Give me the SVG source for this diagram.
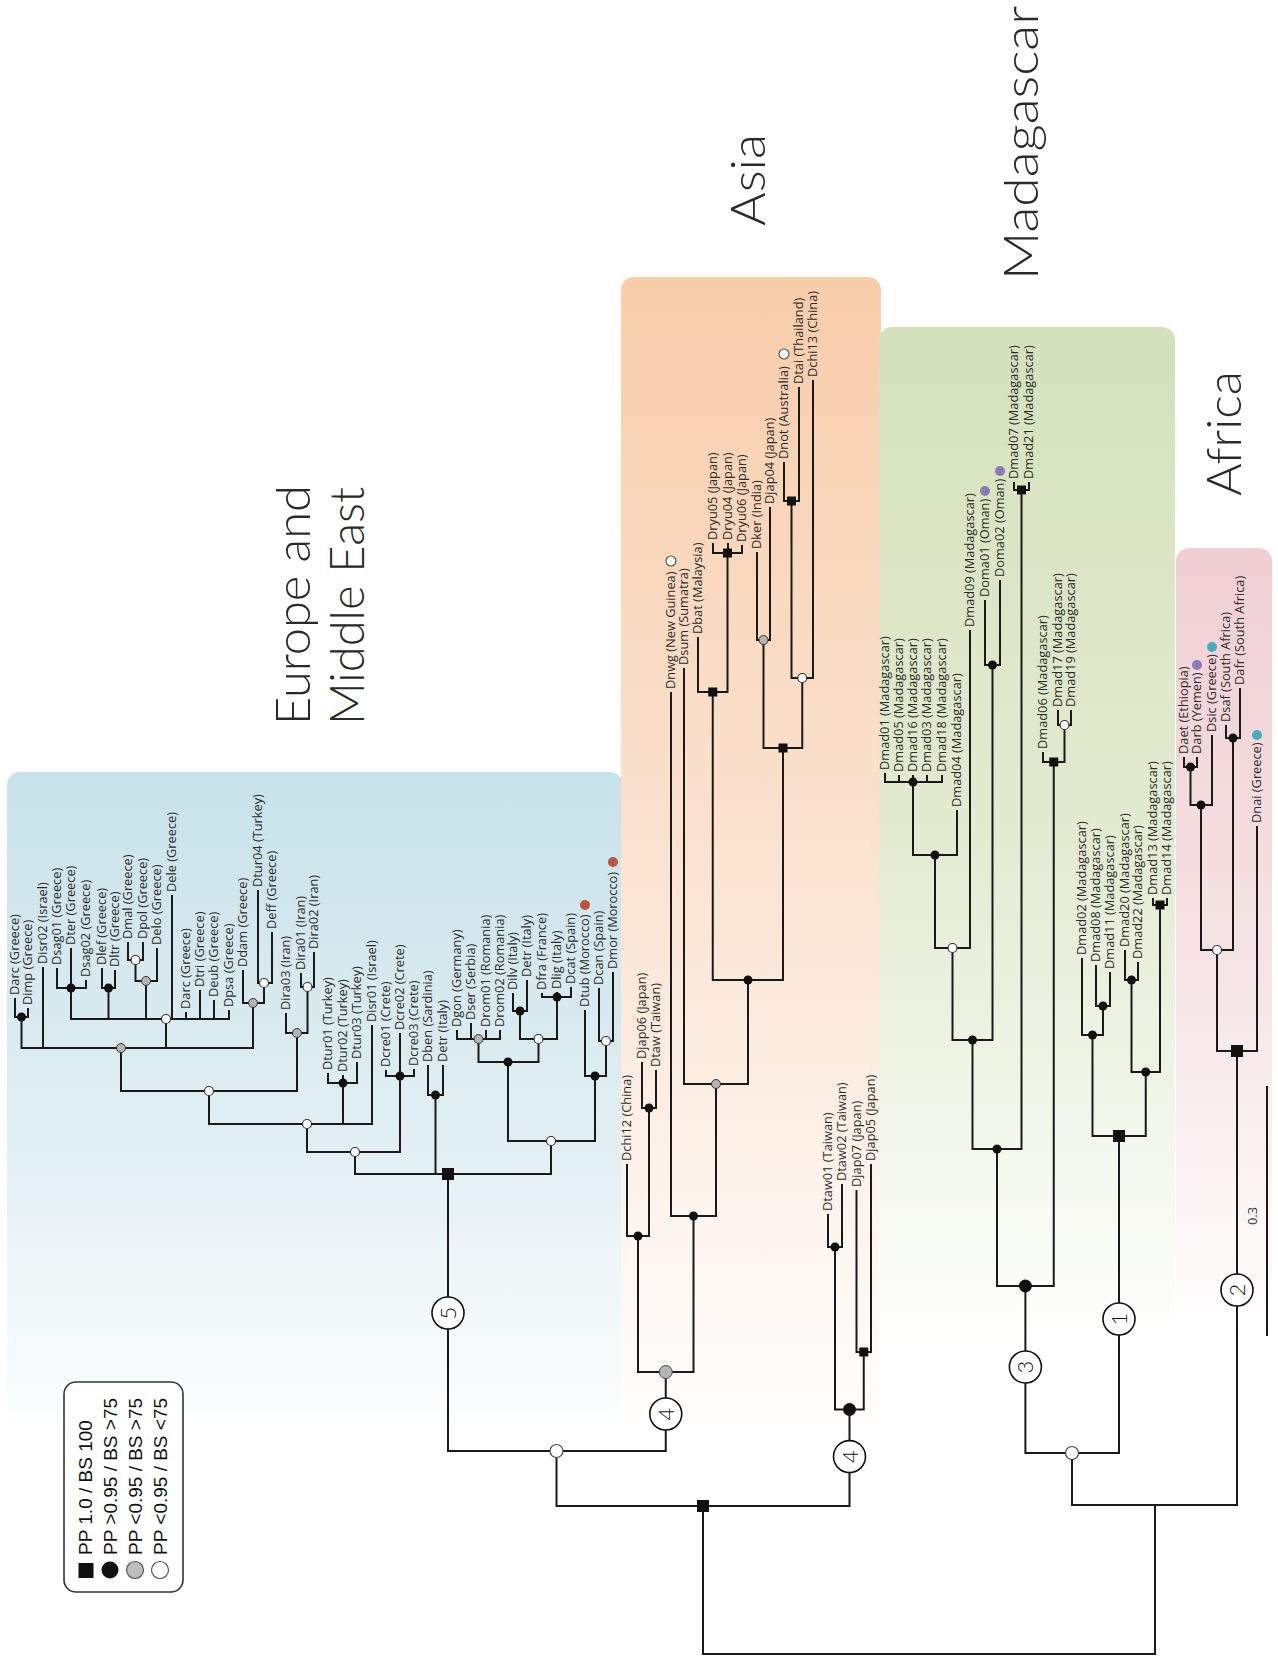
<svg xmlns="http://www.w3.org/2000/svg" xmlns:xlink="http://www.w3.org/1999/xlink" width="1278" height="1656" viewBox="0 0 1278 1656">
  <style>
    .br{fill:none;stroke:#1a1a1a;stroke-width:2}
    .lf{font-family:'Open Sans','Noto Sans',sans-serif;font-size:12.8px;fill:#2b2b2b}
    .ttl{font-family:'Lato Light','Open Sans Light',Lato,'Open Sans',sans-serif;font-size:48px;font-weight:300;fill:#2a2a2a}
    .num{font-family:'Lato Light',Lato,'Open Sans',sans-serif;font-size:22px;fill:#111;text-anchor:middle}
    .lg{font-family:'Liberation Sans',Arial,sans-serif;font-size:19px;fill:#111}
    .ring{fill:#fff;stroke:#111;stroke-width:1.6}
    .red{fill:#c0533f}
    .pur{fill:#8a7ab6}
    .teal{fill:#47adbb}
    .open{fill:#fff;stroke:#555;stroke-width:1.2}
  </style>
  <defs>
    <linearGradient id="gEur" gradientUnits="userSpaceOnUse" x1="0" y1="772" x2="0" y2="1440">
      <stop offset="0" stop-color="#c8e2ea"/>
      <stop offset="0.55" stop-color="#e1eff3"/>
      <stop offset="1" stop-color="#ffffff"/>
    </linearGradient>
    <linearGradient id="gAsia" gradientUnits="userSpaceOnUse" x1="0" y1="277" x2="0" y2="1440">
      <stop offset="0" stop-color="#f8cdaa"/>
      <stop offset="0.5" stop-color="#fbe3d1"/>
      <stop offset="1" stop-color="#ffffff"/>
    </linearGradient>
    <linearGradient id="gMad" gradientUnits="userSpaceOnUse" x1="0" y1="327" x2="0" y2="1350">
      <stop offset="0" stop-color="#d5e1bb"/>
      <stop offset="0.5" stop-color="#e3ebd1"/>
      <stop offset="1" stop-color="#ffffff"/>
    </linearGradient>
    <linearGradient id="gAfr" gradientUnits="userSpaceOnUse" x1="0" y1="548" x2="0" y2="1340">
      <stop offset="0" stop-color="#f0cfd3"/>
      <stop offset="0.5" stop-color="#f6e2e4"/>
      <stop offset="1" stop-color="#ffffff"/>
    </linearGradient>
    <circle id="mb" r="4.5" fill="#111"/>
    <circle id="mg" r="4.5" fill="#b5b5b5" stroke="#333" stroke-width="1"/>
    <circle id="mw" r="4.5" fill="#fff" stroke="#333" stroke-width="1.2"/>
    <circle id="MB" r="6.5" fill="#111"/>
    <circle id="MG" r="6.5" fill="#b5b5b5" stroke="#444" stroke-width="1"/>
    <circle id="MW" r="6.5" fill="#fff" stroke="#444" stroke-width="1.2"/>
    <rect id="sq" x="-4.5" y="-4.5" width="9" height="9" fill="#111"/>
    <rect id="SQ" x="-6" y="-6" width="12" height="12" fill="#111"/>
  </defs>

  <!-- regional backgrounds -->
  <g id="regions">
    <rect x="7" y="772" width="616" height="900" rx="13" fill="url(#gEur)"/>
    <rect x="621" y="277" width="260" height="1400" rx="13" fill="url(#gAsia)"/>
    <rect x="879" y="327" width="296" height="1350" rx="13" fill="url(#gMad)"/>
    <rect x="1176" y="548" width="96" height="1100" rx="13" fill="url(#gAfr)"/>
  </g>

  <!-- region titles -->
  <g id="titles">
    <text class="ttl" transform="translate(310 725) rotate(-90)" textLength="240" lengthAdjust="spacingAndGlyphs">Europe and</text>
    <text class="ttl" transform="translate(364 725) rotate(-90)" textLength="238" lengthAdjust="spacingAndGlyphs">Middle East</text>
    <text class="ttl" transform="translate(765 226) rotate(-90)" textLength="92" lengthAdjust="spacingAndGlyphs">Asia</text>
    <text class="ttl" transform="translate(1038 280) rotate(-90)" textLength="274" lengthAdjust="spacingAndGlyphs">Madagascar</text>
    <text class="ttl" transform="translate(1241 496) rotate(-90)" textLength="125" lengthAdjust="spacingAndGlyphs">Africa</text>
  </g>

  <!-- branches -->
  <g id="connectors" class="br">
    <path d="M15 998V1017H28V1008"/>
    <path d="M57 968V988H86V980M71 948V988"/>
    <path d="M102 968V988H115V970"/>
    <path d="M128 942V960H143V942"/>
    <path d="M135.5 960V981H157V948"/>
    <path d="M71 988V1019H229V1010M108.5 988V1019M146 981V1019M172 895V1019M186 1012V1019M200 990V1019M214 1000V1019"/>
    <path d="M258 890V983H272V932"/>
    <path d="M243 970V1003H264V983"/>
    <path d="M21.5 1017V1048H253V1003M43 967V1048M166 1019V1048"/>
    <path d="M301 973V987H314V952"/>
    <path d="M286 1013V1033H307.5V987"/>
    <path d="M121 1048V1091H297V1033"/>
    <path d="M328 1073V1083H357V1062M343 1075V1083"/>
    <path d="M209 1091V1124H372V1025M343 1083V1124"/>
    <path d="M386 1070V1076H414V1069M400 1033V1076"/>
    <path d="M307 1124V1152H400V1076"/>
    <path d="M428 1065V1095H443V1065"/>
    <path d="M457 1030V1039H500V1030M471 1023V1039M486 1030V1039"/>
    <path d="M513 993V1011H527V980"/>
    <path d="M542 993V997H571V987M557 992V997"/>
    <path d="M520 1011V1039H557V997"/>
    <path d="M478.5 1039V1062H538.5V1039"/>
    <path d="M599 988V1041H613V972"/>
    <path d="M585 1010V1076H606V1041"/>
    <path d="M508 1062V1141H595V1076"/>
    <path d="M355 1152V1174H551V1141M435.5 1095V1174"/>
    <path d="M448 1174V1451H665.75V1372"/>
    <path d="M642 1062V1108H656V1070"/>
    <path d="M627 1164V1236H649V1108"/>
    <path d="M713 543V553H742V545M728 543V553"/>
    <path d="M698 637V692H727.5V553"/>
    <path d="M757 552V640H770V507"/>
    <path d="M784 462V501H799V387"/>
    <path d="M791.5 501V678H813V380"/>
    <path d="M763.5 640V748H802.25V678"/>
    <path d="M712.75 692V980H783V748"/>
    <path d="M684 668V1084H748V980"/>
    <path d="M671 692V1216H716V1084"/>
    <path d="M638 1236V1372H693.5V1216"/>
    <path d="M828 1214V1247H842V1184"/>
    <path d="M856.5 1190V1352H871V1164"/>
    <path d="M835 1247V1409.5H863.75V1352"/>
    <path d="M556.5 1451V1506H849.5V1409.5"/>
    <path d="M885 773V782H942V775M899 775V782M913 775V782M927 775V782"/>
    <path d="M913 782V855H957V810"/>
    <path d="M935 855V948H970V630"/>
    <path d="M985 600V665H1000V580"/>
    <path d="M952.5 948V1040H992.5V665"/>
    <path d="M1014 482V490H1029V482"/>
    <path d="M972.5 1040V1149H1021.5V490"/>
    <path d="M1058 710V725H1071V710"/>
    <path d="M1043 752V762H1064.5V725"/>
    <path d="M997 1149V1286H1053.75V762"/>
    <path d="M1096 965V1006H1110V972"/>
    <path d="M1082 958V1035H1103V1006"/>
    <path d="M1125 950V980H1138V962"/>
    <path d="M1153 898V905H1167V898"/>
    <path d="M1131.5 980V1072H1160V905"/>
    <path d="M1092.5 1035V1136H1145.75V1072"/>
    <path d="M1025.4 1286V1453H1119V1136"/>
    <path d="M1184 757V767H1197V757"/>
    <path d="M1190.5 767V805H1212V735"/>
    <path d="M1226 725V738H1240V688"/>
    <path d="M1201 805V950H1233V738"/>
    <path d="M1217 950V1051H1257V826"/>
    <path d="M1072 1453V1505H1237V1051"/>
    <path d="M703 1506V1654H1155V1505"/>
  </g>

  <!-- internal nodes (support markers) -->
  <g id="node-E1"><use href="#mb" x="21.5" y="1017"/></g>
  <g id="node-E2"><use href="#mb" x="71" y="988"/></g>
  <g id="node-E3"><use href="#mb" x="108.5" y="988"/></g>
  <g id="node-E4"><use href="#mw" x="135.5" y="960"/></g>
  <g id="node-E5"><use href="#mg" x="146" y="981"/></g>
  <g id="node-E6"><use href="#mw" x="166" y="1019"/></g>
  <g id="node-E7"><use href="#mw" x="264" y="983"/></g>
  <g id="node-E8"><use href="#mg" x="253" y="1003"/></g>
  <g id="node-E9"><use href="#mg" x="121" y="1048"/></g>
  <g id="node-E10"><use href="#mw" x="307.5" y="987"/></g>
  <g id="node-E11"><use href="#mg" x="297" y="1033"/></g>
  <g id="node-E12"><use href="#mw" x="209" y="1091"/></g>
  <g id="node-E13"><use href="#mb" x="343" y="1083"/></g>
  <g id="node-E14"><use href="#mw" x="307" y="1124"/></g>
  <g id="node-E15"><use href="#mb" x="400" y="1076"/></g>
  <g id="node-E16"><use href="#mw" x="355" y="1152"/></g>
  <g id="node-E17"><use href="#mb" x="435.5" y="1095"/></g>
  <g id="node-E18"><use href="#mg" x="478.5" y="1039"/></g>
  <g id="node-E19"><use href="#mb" x="520" y="1011"/></g>
  <g id="node-E20"><use href="#mb" x="557" y="997"/></g>
  <g id="node-E21"><use href="#mw" x="538.5" y="1039"/></g>
  <g id="node-E22"><use href="#mb" x="508" y="1062"/></g>
  <g id="node-E23"><use href="#mw" x="606" y="1041"/></g>
  <g id="node-E24"><use href="#mb" x="595" y="1076"/></g>
  <g id="node-E25"><use href="#mw" x="551" y="1141"/></g>
  <g id="node-E26"><use href="#SQ" x="448" y="1174"/></g>
  <g id="node-R1"><use href="#MW" x="556.5" y="1451"/></g>
  <g id="node-A1"><use href="#mb" x="649" y="1108"/></g>
  <g id="node-A2"><use href="#mb" x="638" y="1236"/></g>
  <g id="node-A3"><use href="#sq" x="727.5" y="553"/></g>
  <g id="node-A4"><use href="#sq" x="712.75" y="692"/></g>
  <g id="node-A5"><use href="#mg" x="763.5" y="640"/></g>
  <g id="node-A6"><use href="#sq" x="791.5" y="501"/></g>
  <g id="node-A7"><use href="#mw" x="802.25" y="678"/></g>
  <g id="node-A8"><use href="#sq" x="783" y="748"/></g>
  <g id="node-A9"><use href="#mb" x="748" y="980"/></g>
  <g id="node-A10"><use href="#mg" x="716" y="1084"/></g>
  <g id="node-A11"><use href="#mb" x="693.5" y="1216"/></g>
  <g id="node-A12"><use href="#MG" x="665.75" y="1372"/></g>
  <g id="node-A13"><use href="#mb" x="835" y="1247"/></g>
  <g id="node-A14"><use href="#sq" x="863.75" y="1352"/></g>
  <g id="node-A15"><use href="#MB" x="849.5" y="1409.5"/></g>
  <g id="node-R2"><use href="#SQ" x="703" y="1506"/></g>
  <g id="node-M1"><use href="#mb" x="913" y="782"/></g>
  <g id="node-M2"><use href="#mb" x="935" y="855"/></g>
  <g id="node-M3"><use href="#mw" x="952.5" y="948"/></g>
  <g id="node-M4"><use href="#mb" x="992.5" y="665"/></g>
  <g id="node-M5"><use href="#mb" x="972.5" y="1040"/></g>
  <g id="node-M6"><use href="#sq" x="1021.5" y="490"/></g>
  <g id="node-M7"><use href="#mb" x="997" y="1149"/></g>
  <g id="node-M8"><use href="#mw" x="1064.5" y="725"/></g>
  <g id="node-M9"><use href="#sq" x="1053.75" y="762"/></g>
  <g id="node-M10"><use href="#MB" x="1025.4" y="1286"/></g>
  <g id="node-M11"><use href="#mb" x="1103" y="1006"/></g>
  <g id="node-M12"><use href="#mb" x="1092.5" y="1035"/></g>
  <g id="node-M13"><use href="#mb" x="1131.5" y="980"/></g>
  <g id="node-M14"><use href="#sq" x="1160" y="905"/></g>
  <g id="node-M15"><use href="#mb" x="1145.75" y="1072"/></g>
  <g id="node-M16"><use href="#SQ" x="1119" y="1136"/></g>
  <g id="node-R3"><use href="#MW" x="1072" y="1453"/></g>
  <g id="node-F1"><use href="#mb" x="1190.5" y="767"/></g>
  <g id="node-F2"><use href="#mb" x="1201" y="805"/></g>
  <g id="node-F3"><use href="#mb" x="1233" y="738"/></g>
  <g id="node-F4"><use href="#mw" x="1217" y="950"/></g>
  <g id="node-F5"><use href="#SQ" x="1237" y="1051"/></g>

  <!-- numbered clade markers -->
  <g id="clade-5"><circle class="ring" cx="448" cy="1313" r="16"/><text class="num" transform="translate(448 1313) rotate(-90)" y="8">5</text></g>
  <g id="clade-4a"><circle class="ring" cx="665.75" cy="1414" r="16"/><text class="num" transform="translate(665.75 1414) rotate(-90)" y="8">4</text></g>
  <g id="clade-4b"><circle class="ring" cx="849.5" cy="1456.6" r="16"/><text class="num" transform="translate(849.5 1456.6) rotate(-90)" y="8">4</text></g>
  <g id="clade-3"><circle class="ring" cx="1025.4" cy="1367" r="16"/><text class="num" transform="translate(1025.4 1367) rotate(-90)" y="8">3</text></g>
  <g id="clade-1"><circle class="ring" cx="1119" cy="1319" r="16"/><text class="num" transform="translate(1119 1319) rotate(-90)" y="8">1</text></g>
  <g id="clade-2"><circle class="ring" cx="1237" cy="1290" r="16"/><text class="num" transform="translate(1237 1290) rotate(-90)" y="8">2</text></g>

  <!-- leaves: Europe and Middle East -->
  <g id="leaf-darc-1"><text class="lf" transform="translate(19.3 995) rotate(-90)">Darc (Greece)</text></g>
  <g id="leaf-dimp"><text class="lf" transform="translate(32.3 1005) rotate(-90)">Dimp (Greece)</text></g>
  <g id="leaf-disr02"><text class="lf" transform="translate(47.3 964) rotate(-90)">Disr02 (Israel)</text></g>
  <g id="leaf-dsag01"><text class="lf" transform="translate(61.3 965) rotate(-90)">Dsag01 (Greece)</text></g>
  <g id="leaf-dter"><text class="lf" transform="translate(75.3 945) rotate(-90)">Dter (Greece)</text></g>
  <g id="leaf-dsag02"><text class="lf" transform="translate(90.3 977) rotate(-90)">Dsag02 (Greece)</text></g>
  <g id="leaf-dlef"><text class="lf" transform="translate(106.3 965) rotate(-90)">Dlef (Greece)</text></g>
  <g id="leaf-dltr"><text class="lf" transform="translate(119.3 967) rotate(-90)">Dltr (Greece)</text></g>
  <g id="leaf-dmal"><text class="lf" transform="translate(132.3 939) rotate(-90)">Dmal (Greece)</text></g>
  <g id="leaf-dpol"><text class="lf" transform="translate(147.3 939) rotate(-90)">Dpol (Greece)</text></g>
  <g id="leaf-delo"><text class="lf" transform="translate(161.3 945) rotate(-90)">Delo (Greece)</text></g>
  <g id="leaf-dele"><text class="lf" transform="translate(176.3 892) rotate(-90)">Dele (Greece)</text></g>
  <g id="leaf-darc-2"><text class="lf" transform="translate(190.3 1009) rotate(-90)">Darc (Greece)</text></g>
  <g id="leaf-dtri"><text class="lf" transform="translate(204.3 987) rotate(-90)">Dtri (Greece)</text></g>
  <g id="leaf-deub"><text class="lf" transform="translate(218.3 997) rotate(-90)">Deub (Greece)</text></g>
  <g id="leaf-dpsa"><text class="lf" transform="translate(233.3 1007) rotate(-90)">Dpsa (Greece)</text></g>
  <g id="leaf-ddam"><text class="lf" transform="translate(247.3 967) rotate(-90)">Ddam (Greece)</text></g>
  <g id="leaf-dtur04"><text class="lf" transform="translate(262.3 887) rotate(-90)">Dtur04 (Turkey)</text></g>
  <g id="leaf-deff"><text class="lf" transform="translate(276.3 929) rotate(-90)">Deff (Greece)</text></g>
  <g id="leaf-dira03"><text class="lf" transform="translate(290.3 1010) rotate(-90)">Dira03 (Iran)</text></g>
  <g id="leaf-dira01"><text class="lf" transform="translate(305.3 970) rotate(-90)">Dira01 (Iran)</text></g>
  <g id="leaf-dira02"><text class="lf" transform="translate(318.3 949) rotate(-90)">Dira02 (Iran)</text></g>
  <g id="leaf-dtur01"><text class="lf" transform="translate(332.3 1070) rotate(-90)">Dtur01 (Turkey)</text></g>
  <g id="leaf-dtur02"><text class="lf" transform="translate(347.3 1072) rotate(-90)">Dtur02 (Turkey)</text></g>
  <g id="leaf-dtur03"><text class="lf" transform="translate(361.3 1059) rotate(-90)">Dtur03 (Turkey)</text></g>
  <g id="leaf-disr01"><text class="lf" transform="translate(376.3 1022) rotate(-90)">Disr01 (Israel)</text></g>
  <g id="leaf-dcre01"><text class="lf" transform="translate(390.3 1067) rotate(-90)">Dcre01 (Crete)</text></g>
  <g id="leaf-dcre02"><text class="lf" transform="translate(404.3 1030) rotate(-90)">Dcre02 (Crete)</text></g>
  <g id="leaf-dcre03"><text class="lf" transform="translate(418.3 1066) rotate(-90)">Dcre03 (Crete)</text></g>
  <g id="leaf-dben"><text class="lf" transform="translate(432.3 1062) rotate(-90)">Dben (Sardinia)</text></g>
  <g id="leaf-detr-1"><text class="lf" transform="translate(447.3 1062) rotate(-90)">Detr (Italy)</text></g>
  <g id="leaf-dgon"><text class="lf" transform="translate(461.3 1027) rotate(-90)">Dgon (Germany)</text></g>
  <g id="leaf-dser"><text class="lf" transform="translate(475.3 1020) rotate(-90)">Dser (Serbia)</text></g>
  <g id="leaf-drom01"><text class="lf" transform="translate(490.3 1027) rotate(-90)">Drom01 (Romania)</text></g>
  <g id="leaf-drom02"><text class="lf" transform="translate(504.3 1027) rotate(-90)">Drom02 (Romania)</text></g>
  <g id="leaf-dilv"><text class="lf" transform="translate(517.3 990) rotate(-90)">Dilv (Italy)</text></g>
  <g id="leaf-detr-2"><text class="lf" transform="translate(531.3 977) rotate(-90)">Detr (Italy)</text></g>
  <g id="leaf-dfra"><text class="lf" transform="translate(546.3 990) rotate(-90)">Dfra (France)</text></g>
  <g id="leaf-dlig"><text class="lf" transform="translate(561.3 989) rotate(-90)">Dlig (Italy)</text></g>
  <g id="leaf-dcat"><text class="lf" transform="translate(575.3 984) rotate(-90)">Dcat (Spain)</text></g>
  <g id="leaf-dtub"><text class="lf" transform="translate(589.3 1007) rotate(-90)">Dtub (Morocco)</text><circle class="red" cx="585" cy="905" r="5"/></g>
  <g id="leaf-dcan"><text class="lf" transform="translate(603.3 985) rotate(-90)">Dcan (Spain)</text></g>
  <g id="leaf-dmor"><text class="lf" transform="translate(617.3 969) rotate(-90)">Dmor (Morocco)</text><circle class="red" cx="613" cy="862" r="5"/></g>

  <!-- leaves: Asia -->
  <g id="leaf-dchi12"><text class="lf" transform="translate(631.3 1161) rotate(-90)">Dchi12 (China)</text></g>
  <g id="leaf-djap06"><text class="lf" transform="translate(646.3 1059) rotate(-90)">Djap06 (Japan)</text></g>
  <g id="leaf-dtaw"><text class="lf" transform="translate(660.3 1067) rotate(-90)">Dtaw (Taiwan)</text></g>
  <g id="leaf-dnwg"><text class="lf" transform="translate(675.3 689) rotate(-90)">Dnwg (New Guinea)</text><circle class="open" cx="671" cy="561" r="5"/></g>
  <g id="leaf-dsum"><text class="lf" transform="translate(688.3 665) rotate(-90)">Dsum (Sumatra)</text></g>
  <g id="leaf-dbat"><text class="lf" transform="translate(702.3 634) rotate(-90)">Dbat (Malaysia)</text></g>
  <g id="leaf-dryu05"><text class="lf" transform="translate(717.3 540) rotate(-90)">Dryu05 (Japan)</text></g>
  <g id="leaf-dryu04"><text class="lf" transform="translate(732.3 540) rotate(-90)">Dryu04 (Japan)</text></g>
  <g id="leaf-dryu06"><text class="lf" transform="translate(746.3 542) rotate(-90)">Dryu06 (Japan)</text></g>
  <g id="leaf-dker"><text class="lf" transform="translate(761.3 549) rotate(-90)">Dker (India)</text></g>
  <g id="leaf-djap04"><text class="lf" transform="translate(774.3 504) rotate(-90)">Djap04 (Japan)</text></g>
  <g id="leaf-dnot"><text class="lf" transform="translate(788.3 459) rotate(-90)">Dnot (Australia)</text><circle class="open" cx="784" cy="354" r="5"/></g>
  <g id="leaf-dtai"><text class="lf" transform="translate(803.3 384) rotate(-90)">Dtai (Thailand)</text></g>
  <g id="leaf-dchi13"><text class="lf" transform="translate(817.3 377) rotate(-90)">Dchi13 (China)</text></g>
  <g id="leaf-dtaw01"><text class="lf" transform="translate(832.3 1211) rotate(-90)">Dtaw01 (Taiwan)</text></g>
  <g id="leaf-dtaw02"><text class="lf" transform="translate(846.3 1181) rotate(-90)">Dtaw02 (Taiwan)</text></g>
  <g id="leaf-djap07"><text class="lf" transform="translate(860.8 1187) rotate(-90)">Djap07 (Japan)</text></g>
  <g id="leaf-djap05"><text class="lf" transform="translate(875.3 1161) rotate(-90)">Djap05 (Japan)</text></g>

  <!-- leaves: Madagascar -->
  <g id="leaf-dmad01"><text class="lf" transform="translate(889.3 770) rotate(-90)">Dmad01 (Madagascar)</text></g>
  <g id="leaf-dmad05"><text class="lf" transform="translate(903.3 772) rotate(-90)">Dmad05 (Madagascar)</text></g>
  <g id="leaf-dmad16"><text class="lf" transform="translate(917.3 772) rotate(-90)">Dmad16 (Madagascar)</text></g>
  <g id="leaf-dmad03"><text class="lf" transform="translate(931.3 772) rotate(-90)">Dmad03 (Madagascar)</text></g>
  <g id="leaf-dmad18"><text class="lf" transform="translate(946.3 772) rotate(-90)">Dmad18 (Madagascar)</text></g>
  <g id="leaf-dmad04"><text class="lf" transform="translate(961.3 807) rotate(-90)">Dmad04 (Madagascar)</text></g>
  <g id="leaf-dmad09"><text class="lf" transform="translate(974.3 627) rotate(-90)">Dmad09 (Madagascar)</text></g>
  <g id="leaf-doma01"><text class="lf" transform="translate(989.3 597) rotate(-90)">Doma01 (Oman)</text><circle class="pur" cx="985" cy="491" r="5"/></g>
  <g id="leaf-doma02"><text class="lf" transform="translate(1004.3 577) rotate(-90)">Doma02 (Oman)</text><circle class="pur" cx="1000" cy="471" r="5"/></g>
  <g id="leaf-dmad07"><text class="lf" transform="translate(1018.3 479) rotate(-90)">Dmad07 (Madagascar)</text></g>
  <g id="leaf-dmad21"><text class="lf" transform="translate(1033.3 479) rotate(-90)">Dmad21 (Madagascar)</text></g>
  <g id="leaf-dmad06"><text class="lf" transform="translate(1047.3 749) rotate(-90)">Dmad06 (Madagascar)</text></g>
  <g id="leaf-dmad17"><text class="lf" transform="translate(1062.3 707) rotate(-90)">Dmad17 (Madagascar)</text></g>
  <g id="leaf-dmad19"><text class="lf" transform="translate(1075.3 707) rotate(-90)">Dmad19 (Madagascar)</text></g>
  <g id="leaf-dmad02"><text class="lf" transform="translate(1086.3 955) rotate(-90)">Dmad02 (Madagascar)</text></g>
  <g id="leaf-dmad08"><text class="lf" transform="translate(1100.3 962) rotate(-90)">Dmad08 (Madagascar)</text></g>
  <g id="leaf-dmad11"><text class="lf" transform="translate(1114.3 969) rotate(-90)">Dmad11 (Madagascar)</text></g>
  <g id="leaf-dmad20"><text class="lf" transform="translate(1129.3 947) rotate(-90)">Dmad20 (Madagascar)</text></g>
  <g id="leaf-dmad22"><text class="lf" transform="translate(1142.3 959) rotate(-90)">Dmad22 (Madagascar)</text></g>
  <g id="leaf-dmad13"><text class="lf" transform="translate(1157.3 895) rotate(-90)">Dmad13 (Madagascar)</text></g>
  <g id="leaf-dmad14"><text class="lf" transform="translate(1171.3 895) rotate(-90)">Dmad14 (Madagascar)</text></g>

  <!-- leaves: Africa -->
  <g id="leaf-daet"><text class="lf" transform="translate(1188.3 754) rotate(-90)">Daet (Ethiopia)</text></g>
  <g id="leaf-darb"><text class="lf" transform="translate(1201.3 754) rotate(-90)">Darb (Yemen)</text><circle class="pur" cx="1197" cy="665" r="5"/></g>
  <g id="leaf-dsic"><text class="lf" transform="translate(1216.3 732) rotate(-90)">Dsic (Greece)</text><circle class="teal" cx="1212" cy="647" r="5"/></g>
  <g id="leaf-dsaf"><text class="lf" transform="translate(1230.3 722) rotate(-90)">Dsaf (South Africa)</text></g>
  <g id="leaf-dafr"><text class="lf" transform="translate(1244.3 685) rotate(-90)">Dafr (South Africa)</text></g>
  <g id="leaf-dnai"><text class="lf" transform="translate(1261.3 823) rotate(-90)">Dnai (Greece)</text><circle class="teal" cx="1257" cy="735" r="5"/></g>

  <!-- scale bar -->
  <g id="scale-bar">
    <path d="M1267 1086V1336" class="br"/>
    <text class="lf" transform="translate(1257 1216) rotate(-90)" text-anchor="middle">0.3</text>
  </g>

  <!-- legend -->
  <g id="legend">
    <rect x="64" y="1382" width="119" height="210" rx="12" fill="#fff" stroke="#333" stroke-width="1.6"/>
    <rect x="78.5" y="1563" width="15" height="15" fill="#111"/>
    <circle cx="110" cy="1570" r="8.5" fill="#111"/>
    <circle cx="135" cy="1570" r="8.5" fill="#bdbdbd" stroke="#555" stroke-width="1.2"/>
    <circle cx="160" cy="1570" r="8.5" fill="#fff" stroke="#555" stroke-width="1.2"/>
    <text class="lg" transform="translate(92 1555) rotate(-90)">PP 1.0 / BS 100</text>
    <text class="lg" transform="translate(117 1555) rotate(-90)">PP &gt;0.95 / BS &gt;75</text>
    <text class="lg" transform="translate(142 1555) rotate(-90)">PP &lt;0.95 / BS &gt;75</text>
    <text class="lg" transform="translate(167 1555) rotate(-90)">PP &lt;0.95 / BS &lt;75</text>
  </g>
</svg>
